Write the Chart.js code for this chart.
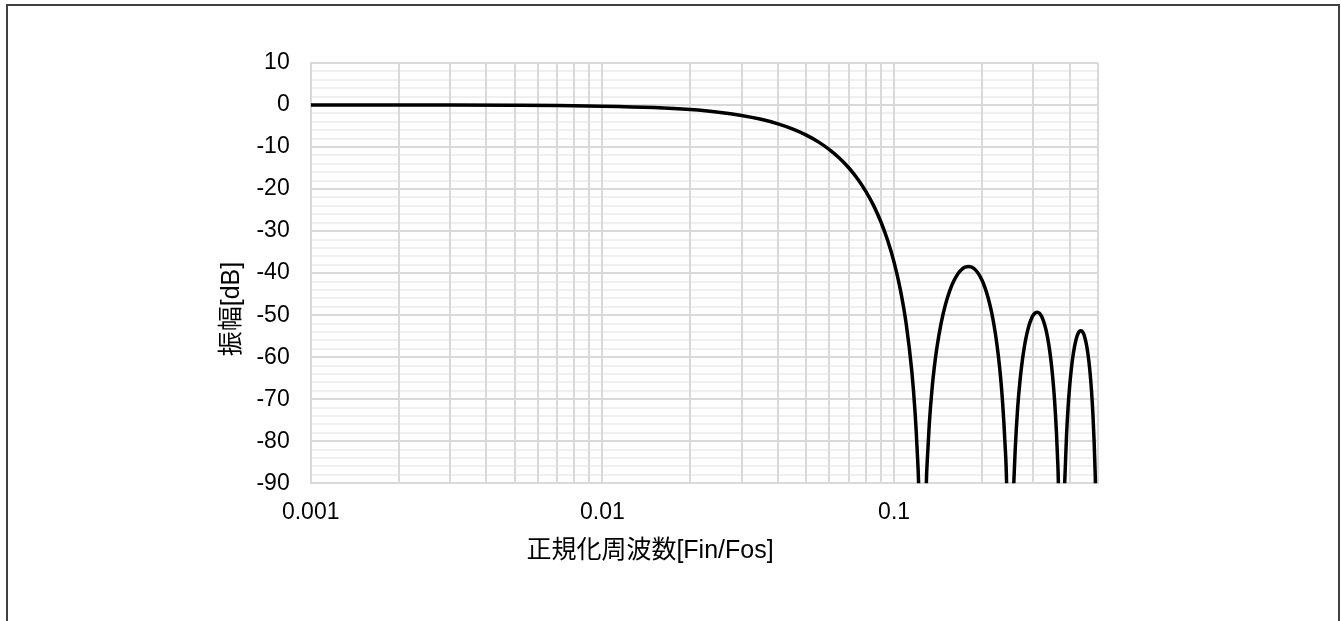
<!DOCTYPE html>
<html>
<head>
<meta charset="utf-8">
<script src="https://cdn.jsdelivr.net/npm/chart.js@4.4.1/dist/chart.umd.min.js"></script>
<style>
  body { margin: 0; background: #fff; overflow: hidden; }
  #wrap { position: relative; width: 1341px; height: 621px; }
  #frame { position: absolute; left: 6px; top: 4px; width: 1330px; height: 700px; border: 2px solid #404040; pointer-events: none; }
</style>
</head>
<body>
<div id="wrap">
  <canvas id="myChart" width="1341" height="621"></canvas>
  <div id="frame"></div>
</div>
<script>
// normalised frequency (Fin/Fos) and gain in dB
const freq = [0.001, 0.002, 0.003, 0.005, 0.007, 0.01, 0.015, 0.02, 0.025, 0.03,
  0.035, 0.04, 0.045, 0.05, 0.055, 0.06, 0.065, 0.07, 0.075, 0.08,
  0.085, 0.09, 0.095, 0.1, 0.105, 0.11, 0.115, 0.118, 0.12, 0.1215,
  0.125, 0.129, 0.13, 0.132, 0.135, 0.1375, 0.14, 0.145, 0.15, 0.155,
  0.16, 0.165, 0.17, 0.175, 0.18, 0.185, 0.19, 0.195, 0.2, 0.205,
  0.21, 0.215, 0.22, 0.225, 0.23, 0.235, 0.24, 0.243, 0.25, 0.257,
  0.258, 0.26, 0.265, 0.27, 0.275, 0.28, 0.285, 0.29, 0.295, 0.3,
  0.305, 0.31, 0.315, 0.32, 0.325, 0.33, 0.335, 0.34, 0.345, 0.35,
  0.355, 0.36, 0.363, 0.3655, 0.375, 0.3835, 0.385, 0.39, 0.395, 0.4,
  0.405, 0.41, 0.415, 0.42, 0.425, 0.43, 0.435, 0.44, 0.445, 0.45,
  0.455, 0.46, 0.465, 0.47, 0.475, 0.48, 0.485, 0.488, 0.49, 0.5]
const gainDb = [0, -0.01, -0.02, -0.07, -0.13, -0.27, -0.61, -1.09, -1.71, -2.48,
  -3.40, -4.48, -5.73, -7.15, -8.77, -10.60, -12.66, -14.98, -17.58, -20.53,
  -23.88, -27.71, -32.17, -37.43, -43.84, -52.02, -63.35, -73.14, -82.26, -91.83,
  -150, -89.85, -84.24, -75.91, -67.31, -62.10, -57.98, -51.82, -47.45, -44.27,
  -41.95, -40.29, -39.20, -38.58, -38.39, -38.61, -39.22, -40.23, -41.65, -43.50,
  -45.84, -48.74, -52.32, -56.78, -62.44, -69.91, -80.57, -89.98, -150, -91.13,
  -87.77, -82.21, -72.37, -65.72, -60.90, -57.27, -54.52, -52.46, -50.96, -49.97,
  -49.42, -49.29, -49.56, -50.24, -51.34, -52.88, -54.92, -57.54, -60.84, -65.03,
  -70.41, -77.62, -83.33, -89.36, -150, -92.82, -88.71, -78.64, -71.77, -66.72,
  -62.88, -59.92, -57.65, -55.96, -54.76, -54.01, -53.69, -53.77, -54.26, -55.17,
  -56.53, -58.39, -60.82, -63.95, -67.95, -73.16, -80.20, -85.80, -90.43, -150]

// x grid positions (log decades) and which of them get a label
const xGridValues = [0.001, 0.002, 0.003, 0.004, 0.005, 0.006, 0.007, 0.008, 0.009,
  0.01, 0.02, 0.03, 0.04, 0.05, 0.06, 0.07, 0.08, 0.09,
  0.1, 0.2, 0.3, 0.4, 0.5]
const xLabels = ['0.001', '0.01', '0.1']
const xTitle = '正規化周波数[Fin/Fos]'
const yTitle = '振幅[dB]'

const tickFont = { family: '"Liberation Sans", Arial, sans-serif', size: 23 }

// draws the two axis titles where the original puts them
const axisTitles = {
  id: 'axisTitles',
  afterDraw(chart) {
    const ctx = chart.ctx
    ctx.save()
    ctx.fillStyle = '#000'
    ctx.font = '25px "Liberation Sans", "Noto Sans CJK JP", sans-serif'
    ctx.textAlign = 'center'
    ctx.textBaseline = 'middle'
    ctx.fillText(xTitle, 650, 551)
    ctx.translate(232, 309)
    ctx.rotate(-Math.PI / 2)
    ctx.fillText(yTitle, 0, 0)
    ctx.restore()
  }
}

const ctx = document.getElementById('myChart').getContext('2d')
const myChart = new Chart(ctx, {
  type: 'line',
  data: {
    datasets: [{
      data: freq.map((f, i) => ({ x: f, y: gainDb[i] })),
      borderColor: '#000',
      borderWidth: 3.5,
      pointRadius: 0,
      fill: false,
      cubicInterpolationMode: 'monotone'
    }]
  },
  options: {
    responsive: false,
    animation: false,
    devicePixelRatio: 1,
    layout: { padding: { left: 200, top: 63, right: 243, bottom: 0 } },
    plugins: { legend: { display: false }, tooltip: { enabled: false } },
    scales: {
      x: {
        type: 'logarithmic',
        min: 0.001,
        max: 0.5,
        afterBuildTicks: (scale) => { scale.ticks = xGridValues.map(v => ({ value: v })) },
        afterFit: (scale) => { scale.height = 621 - 483.3 },
        grid: { color: '#d9d9d9', lineWidth: 2, drawTicks: false },
        border: { color: '#d9d9d9', width: 2 },
        ticks: {
          autoSkip: false,
          maxRotation: 0,
          padding: 16,
          color: '#000',
          font: tickFont,
          callback: (v) => {
            const lab = xLabels.find(s => Math.abs(parseFloat(s) - v) < v * 1e-6)
            return lab || ''
          }
        }
      },
      y: {
        min: -90,
        max: 10,
        afterFit: (scale) => { scale.width = 110.7 },
        grid: {
          z: -2, // light horizontal lines go under the vertical ones
          color: (c) => (c.tick && c.tick.value % 10 === 0) ? '#d9d9d9' : '#f0f0f0',
          lineWidth: 2,
          drawTicks: false
        },
        border: { color: '#d9d9d9', width: 2 },
        ticks: {
          stepSize: 2,
          autoSkip: false,
          padding: 21,
          color: '#000',
          font: tickFont,
          callback: (v) => (v % 10 === 0 ? String(v) : '')
        }
      }
    }
  },
  plugins: [axisTitles]
})
</script>
</body>
</html>
